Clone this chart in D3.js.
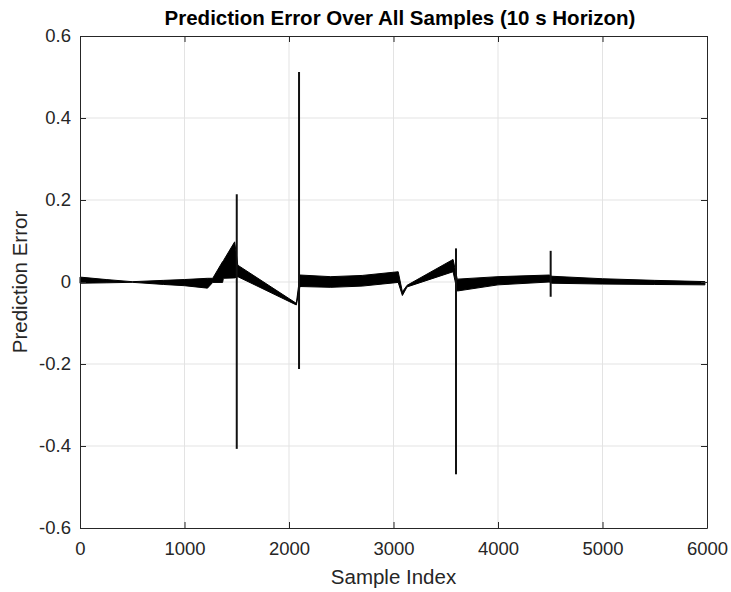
<!DOCTYPE html>
<html>
<head>
<meta charset="utf-8">
<script src="https://cdn.jsdelivr.net/npm/d3@7"></script>
<style>
  body { margin: 0; background: #fff; }
  svg { display: block; font-family: "Liberation Sans", Arial, Helvetica, sans-serif; }
</style>
</head>
<body>
<div id="chart"></div>
<script>
// envelope of the error band (sample index, upper, lower)
const bandX  = [0, 250, 500, 800, 1000, 1220, 1270, 1365, 1372, 1480, 1510, 2070, 2105, 2400, 2700, 3045, 3085, 3130, 3570, 3610, 4000, 4490, 4515, 5000, 5500, 5980];
const bandHi = [0.012, 0.006, 0.0008, 0.004, 0.006, 0.009, 0.009, 0.05, 0.052, 0.098, 0.041, -0.052, 0.017, 0.013, 0.016, 0.025, -0.024, -0.008, 0.055, 0.007, 0.013, 0.017, 0.014, 0.008, 0.004, 0.001];
const bandLo = [-0.003, -0.002, -0.0008, -0.006, -0.009, -0.015, -0.001, -0.001, 0.009, 0.01, 0.013, -0.056, -0.011, -0.013, -0.01, -0.001, -0.033, -0.012, 0.025, -0.022, -0.007, 0.0, -0.003, -0.005, -0.006, -0.007];

// sharp transients
const spikeX   = [1500, 2096, 3598, 4504];
const spikeMax = [0.214, 0.512, 0.082, 0.076];
const spikeMin = [-0.407, -0.212, -0.469, -0.036];

const xTicks = [0, 1000, 2000, 3000, 4000, 5000, 6000];
const yTicks = [-0.6, -0.4, -0.2, 0, 0.2, 0.4, 0.6];

const W = 731, H = 592;
const margin = { top: 36, right: 24, bottom: 64, left: 80 };
const width = W - margin.left - margin.right;
const height = H - margin.top - margin.bottom;

const x = d3.scaleLinear().domain([0, 6000]).range([0, width]);
const y = d3.scaleLinear().domain([-0.6, 0.6]).range([height, 0]);

const root = d3.select("#chart").append("svg")
    .attr("width", W)
    .attr("height", H);

const svg = root.append("g")
    .attr("transform", `translate(${margin.left},${margin.top})`);

// grid
svg.append("g")
    .selectAll("line")
    .data(xTicks.slice(1, -1))
    .join("line")
    .attr("x1", d => x(d)).attr("x2", d => x(d))
    .attr("y1", 0).attr("y2", height)
    .attr("stroke", "#e3e3e3").attr("stroke-width", 1);

svg.append("g")
    .selectAll("line")
    .data(yTicks.slice(1, -1))
    .join("line")
    .attr("y1", d => y(d)).attr("y2", d => y(d))
    .attr("x1", 0).attr("x2", width)
    .attr("stroke", "#e3e3e3").attr("stroke-width", 1);

// data band
const band = bandX.map((d, i) => ({ x: d, hi: bandHi[i], lo: bandLo[i] }));

const area = d3.area()
    .x(d => x(d.x))
    .y0(d => y(d.lo))
    .y1(d => y(d.hi));

svg.append("path")
    .datum(band)
    .attr("fill", "#000")
    .attr("stroke", "#000")
    .attr("stroke-width", 1)
    .attr("stroke-linejoin", "round")
    .attr("d", area);

// spikes
svg.selectAll(".spike")
    .data(spikeX.map((d, i) => ({ x: d, max: spikeMax[i], min: spikeMin[i] })))
    .join("line")
    .attr("class", "spike")
    .attr("x1", d => x(d.x)).attr("x2", d => x(d.x))
    .attr("y1", d => y(d.max)).attr("y2", d => y(d.min))
    .attr("stroke", "#111")
    .attr("stroke-width", 2);

// axes (ticks pointing in, MATLAB style)
const fmtY = d => d === 0 ? "0" : d3.format(".1f")(d).replace("−", "-");

svg.append("g")
    .attr("transform", `translate(0,${height})`)
    .call(d3.axisBottom(x).tickValues(xTicks).tickSizeInner(-6).tickSizeOuter(0).tickPadding(14).tickFormat(d3.format("d")));

svg.append("g")
    .call(d3.axisLeft(y).tickValues(yTicks).tickSizeInner(-6).tickSizeOuter(0).tickPadding(9).tickFormat(fmtY));

svg.append("g")
    .call(d3.axisTop(x).tickValues(xTicks).tickSizeInner(-6).tickSizeOuter(0).tickFormat(""));

svg.append("g")
    .attr("transform", `translate(${width},0)`)
    .call(d3.axisRight(y).tickValues(yTicks).tickSizeInner(-6).tickSizeOuter(0).tickFormat(""));

svg.selectAll(".domain").attr("stroke", "#262626");
svg.selectAll(".tick line").attr("stroke", "#262626");
svg.selectAll(".tick text")
    .attr("fill", "#262626")
    .style("font-size", "18.5px")
    .style("font-family", "'Liberation Sans', Arial, sans-serif");

// titles
root.append("text")
    .attr("x", 400)
    .attr("y", 24.5)
    .attr("text-anchor", "middle")
    .style("font-size", "20.5px")
    .style("font-weight", "bold")
    .attr("fill", "#000")
    .text("Prediction Error Over All Samples (10 s Horizon)");

root.append("text")
    .attr("x", margin.left + width / 2)
    .attr("y", 584)
    .attr("text-anchor", "middle")
    .style("font-size", "20.5px")
    .attr("fill", "#262626")
    .text("Sample Index");

root.append("text")
    .attr("transform", `translate(27,${margin.top + height / 2}) rotate(-90)`)
    .attr("text-anchor", "middle")
    .style("font-size", "20.5px")
    .attr("fill", "#262626")
    .text("Prediction Error");
</script>
</body>
</html>
